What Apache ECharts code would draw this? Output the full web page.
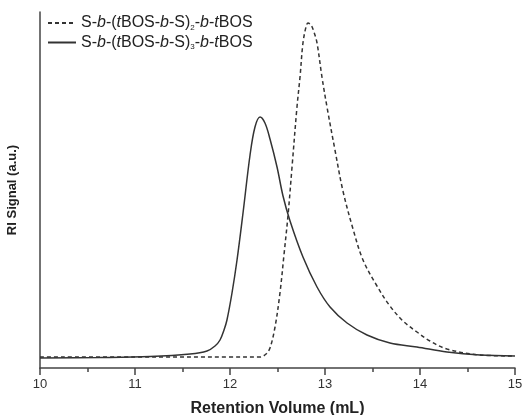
<!DOCTYPE html>
<html>
<head>
<meta charset="utf-8">
<script src="https://cdn.jsdelivr.net/npm/echarts@6/dist/echarts.min.js"></script>
<style>html,body{margin:0;padding:0;background:#fff;}#c{width:532px;height:415px;}</style>
</head>
<body>
<div id="c"></div>
<script>
var seriesNames = ['S-b-(tBOS-b-S)2-b-tBOS', 'S-b-(tBOS-b-S)3-b-tBOS'];
var xTicks = [10, 11, 12, 13, 14, 15];
var xAxisTitle = 'Retention Volume (mL)';
var yAxisTitle = 'RI Signal (a.u.)';

// dashed: S-b-(tBOS-b-S)2-b-tBOS
var dashedX = [10.00, 11.00, 12.00, 12.316, 12.379, 12.421, 12.474, 12.526, 12.568, 12.611, 12.653, 12.705, 12.737, 12.768, 12.800, 12.821, 12.853, 12.884, 12.916, 12.968, 13.021, 13.105, 13.189, 13.295, 13.400, 13.547, 13.684, 13.821, 13.968, 14.105, 14.284, 14.632, 15.00];
var dashedY = [11, 11, 11, 11, 14, 20, 41, 75, 113, 153, 201, 261, 291, 325, 341, 345, 343, 336, 325, 291, 261, 218, 177, 139, 108, 82, 62, 47, 36, 27, 19, 13, 12];
// solid: S-b-(tBOS-b-S)3-b-tBOS
var solidX = [10.00, 10.632, 11.158, 11.579, 11.758, 11.842, 11.895, 11.937, 11.968, 12.021, 12.074, 12.137, 12.211, 12.263, 12.316, 12.368, 12.421, 12.495, 12.558, 12.632, 12.768, 12.916, 13.053, 13.232, 13.442, 13.684, 13.968, 14.284, 14.632, 15.00];
var solidY = [10, 10.5, 11.5, 14, 17, 22, 28, 38, 48, 75, 108, 155, 213, 241, 251, 245, 229, 201, 172, 147, 111, 81, 61, 45, 33, 25, 21, 16, 13, 12];

function pairs(xs, ys) { return xs.map(function (x, i) { return [x, ys[i]]; }); }

var FF = 'Liberation Sans, Arial, sans-serif';
var rich = {
  n: {fontSize: 16, fontFamily: FF, color: '#222'},
  i: {fontSize: 16, fontStyle: 'italic', fontFamily: FF, color: '#222'},
  s: {fontSize: 8, fontFamily: FF, color: '#222', padding: [9, 0, 0, 0]}
};
function legendLabel(name) {
  var sub = name === seriesNames[0] ? '2' : '3';
  return '{n|S-}{i|b}{n|-(}{i|t}{n|BOS-}{i|b}{n|-S)}{s|' + sub + '}{n|-}{i|b}{n|-}{i|t}{n|BOS}';
}

var chart = echarts.init(document.getElementById('c'));
chart.setOption({
  animation: false,
  backgroundColor: '#ffffff',
  grid: {left: 40, right: 17, top: 12, bottom: 47, containLabel: false, outerBoundsMode: 'none'},
  legend: {
    orient: 'vertical', left: 47, top: 15, padding: 0, itemWidth: 28, itemHeight: 10, itemGap: 3,
    formatter: legendLabel,
    textStyle: {rich: rich},
    itemStyle: {color: 'rgba(0,0,0,0)', borderWidth: 0, opacity: 0},
    data: seriesNames
  },
  xAxis: {
    type: 'value', min: 10, max: 15, interval: 1,
    name: xAxisTitle, nameLocation: 'middle', nameGap: 33,
    nameTextStyle: {fontSize: 16, fontWeight: 'bold', color: '#222', fontFamily: FF},
    axisLine: {lineStyle: {color: '#444', width: 1.5}},
    axisTick: {show: true, inside: false, length: 7, lineStyle: {color: '#444', width: 1.5}},
    minorTick: {show: true, splitNumber: 2, length: 4, lineStyle: {color: '#444', width: 1.5}},
    axisLabel: {fontSize: 13, color: '#333', margin: 10, fontFamily: FF,
      formatter: function (v) { return xTicks.indexOf(v) >= 0 ? String(v) : ''; }},
    splitLine: {show: false}
  },
  yAxis: {
    type: 'value', min: 0, max: 356,
    name: yAxisTitle, nameLocation: 'middle', nameGap: 21, nameRotate: 90,
    nameTextStyle: {fontSize: 13, fontWeight: 'bold', color: '#222', fontFamily: FF},
    axisLine: {show: true, lineStyle: {color: '#444', width: 1.5}},
    axisTick: {show: false}, axisLabel: {show: false}, splitLine: {show: false}
  },
  series: [
    {name: seriesNames[0], type: 'line', smooth: 0.35, symbol: 'none', data: pairs(dashedX, dashedY),
     lineStyle: {color: '#333', width: 1.5, type: [4, 3]}, itemStyle: {color: '#333'}},
    {name: seriesNames[1], type: 'line', smooth: 0.35, symbol: 'none', data: pairs(solidX, solidY),
     lineStyle: {color: '#333', width: 1.5, type: 'solid'}, itemStyle: {color: '#333'}}
  ]
});
</script>
</body>
</html>
